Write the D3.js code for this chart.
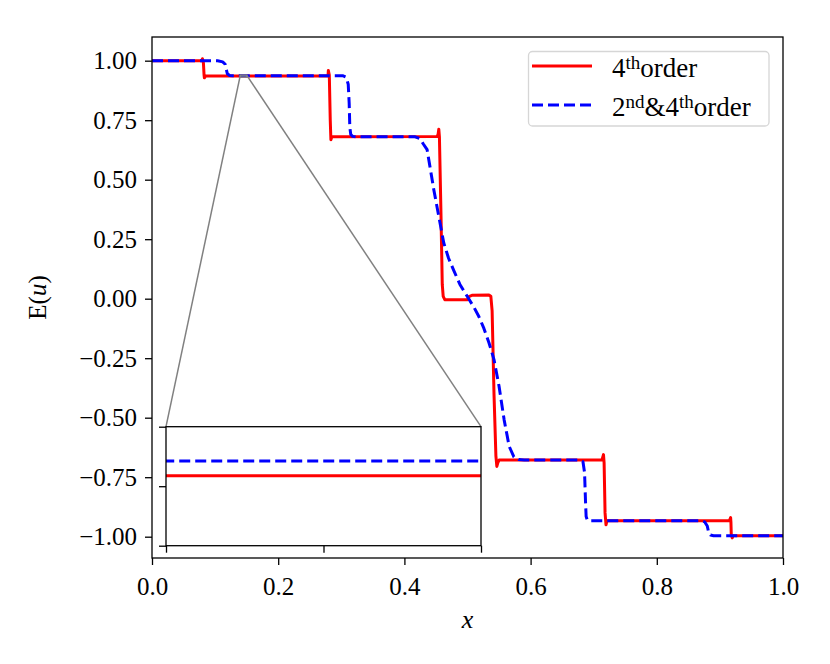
<!DOCTYPE html>
<html>
<head>
<meta charset="utf-8">
<script src="https://cdn.jsdelivr.net/npm/d3@7"></script>
<style>
  body { margin: 0; background: #fff; }
  text { font-family: "Liberation Serif", "DejaVu Serif", serif; fill: #000; }
</style>
</head>
<body>
<div id="chart"></div>
<script>
// 4th order scheme
const redX = [0.000, 0.079, 0.080, 0.0815, 0.0825, 0.083, 0.085,
  0.279, 0.2795, 0.281, 0.2825, 0.2835, 0.285,
  0.452, 0.4535, 0.4545, 0.4555, 0.458, 0.460, 0.4615, 0.464,
  0.500, 0.503, 0.507, 0.534, 0.537, 0.539, 0.542, 0.545, 0.5465, 0.548, 0.550,
  0.713, 0.7155, 0.7165, 0.718, 0.7195, 0.721,
  0.915, 0.917, 0.9175, 0.918, 0.9195, 0.921, 1.000];
const redY = [1.000, 1.000, 1.008, 0.990, 0.940, 0.928, 0.936,
  0.936, 0.959, 0.940, 0.750, 0.668, 0.680,
  0.681, 0.692, 0.712, 0.680, 0.350, 0.060, 0.010, -0.004,
  -0.004, 0.010, 0.014, 0.015, 0.010, -0.050, -0.400, -0.660, -0.705, -0.690, -0.678,
  -0.678, -0.655, -0.690, -0.900, -0.950, -0.933,
  -0.933, -0.920, -0.940, -0.990, -1.005, -0.996, -0.996];

// 2nd & 4th order scheme
const blueX = [0.000, 0.104, 0.112, 0.116, 0.118, 0.1195, 0.123, 0.128,
  0.302, 0.308, 0.311, 0.3125, 0.3135, 0.315, 0.318, 0.324,
  0.417, 0.425, 0.430, 0.436, 0.4466, 0.4545, 0.4624, 0.470, 0.478, 0.488,
  0.4995, 0.510, 0.518, 0.526, 0.534, 0.542, 0.550, 0.558, 0.566, 0.5735, 0.581, 0.590,
  0.679, 0.683, 0.6855, 0.687, 0.688, 0.690, 0.695,
  0.870, 0.876, 0.880, 0.882, 0.885, 0.890, 1.000];
const blueY = [1.000, 1.000, 0.995, 0.985, 0.960, 0.945, 0.938, 0.937,
  0.937, 0.930, 0.900, 0.820, 0.720, 0.690, 0.682, 0.680,
  0.680, 0.672, 0.650, 0.626, 0.458, 0.346, 0.234, 0.170, 0.120, 0.060,
  0.010, -0.035, -0.075, -0.125, -0.185, -0.256, -0.368, -0.508, -0.620, -0.665, -0.676, -0.678,
  -0.678, -0.685, -0.730, -0.850, -0.915, -0.931, -0.933,
  -0.933, -0.938, -0.955, -0.980, -0.993, -0.996, -0.996];

const xTicks = [0, 0.2, 0.4, 0.6, 0.8, 1.0];
const yTicks = [-1, -0.75, -0.5, -0.25, 0, 0.25, 0.5, 0.75, 1];
const xDomain = [0, 1];
const yDomain = [-1.0895, 1.0995];

// zoomed window
const insetXDomain = [0.140, 0.150];
const insetYDomain = [0.9313, 0.9393];
const insetXTicks = [0.140, 0.145, 0.150];
const insetYTicks = [0.9313, 0.9353, 0.9393];

const seriesNames = ['4th', '2nd&4th'];

const config = {
  width: 830, height: 664,
  left: 152, right: 783, top: 37, bottom: 558,
  inset: {left: 166, right: 481, top: 426.7, bottom: 545.7},
  tickLen: 7,
  fontSize: 25,
  legendFontSize: 27,
  lineWidth: 3,
  dash: '11,5'
};

const svg = d3.select('#chart').append('svg')
    .attr('width', config.width)
    .attr('height', config.height);

const x = d3.scaleLinear().domain(xDomain).range([config.left, config.right]);
const y = d3.scaleLinear().domain(yDomain).range([config.bottom, config.top]);

const redData = redX.map((d, i) => [d, redY[i]]);
const blueData = blueX.map((d, i) => [d, blueY[i]]);

svg.append('clipPath').attr('id', 'mainClip')
  .append('rect')
    .attr('x', config.left).attr('y', config.top)
    .attr('width', config.right - config.left)
    .attr('height', config.bottom - config.top);

const fmtY = v => d3.format('.2f')(v).replace('-', '\u2212');

// axes
const xAxis = svg.append('g')
    .attr('transform', `translate(0,${config.bottom})`)
    .call(d3.axisBottom(x).tickValues(xTicks).tickFormat(d3.format('.1f'))
      .tickSize(config.tickLen).tickPadding(6));
const yAxis = svg.append('g')
    .attr('transform', `translate(${config.left},0)`)
    .call(d3.axisLeft(y).tickValues(yTicks).tickFormat(fmtY)
      .tickSize(config.tickLen).tickPadding(8));
[xAxis, yAxis].forEach(a => {
  a.select('.domain').remove();
  a.selectAll('line').attr('stroke', '#000').attr('stroke-width', 1.3);
  a.selectAll('text')
    .attr('font-family', '"Liberation Serif", serif')
    .attr('font-size', config.fontSize);
});
xAxis.selectAll('text').attr('dy', '0.95em');

// data lines
const mainLine = d3.line().x(d => x(d[0])).y(d => y(d[1]));
const plot = svg.append('g').attr('clip-path', 'url(#mainClip)');
plot.append('path')
    .attr('d', mainLine(redData))
    .attr('fill', 'none').attr('stroke', '#ff0000')
    .attr('stroke-width', config.lineWidth).attr('stroke-linejoin', 'round');
plot.append('path')
    .attr('d', mainLine(blueData))
    .attr('fill', 'none').attr('stroke', '#0000ff')
    .attr('stroke-width', config.lineWidth).attr('stroke-dasharray', config.dash)
    .attr('stroke-linejoin', 'round');

// frame
svg.append('rect')
    .attr('x', config.left).attr('y', config.top)
    .attr('width', config.right - config.left)
    .attr('height', config.bottom - config.top)
    .attr('fill', 'none').attr('stroke', '#000').attr('stroke-width', 1.3);

// mark of zoomed region + connectors
const ins = config.inset;
const mx0 = x(insetXDomain[0]), mx1 = x(insetXDomain[1]);
const my0 = y(insetYDomain[0]), my1 = y(insetYDomain[1]);
svg.append('rect')
    .attr('x', mx0).attr('y', my1).attr('width', mx1 - mx0).attr('height', my0 - my1)
    .attr('fill', 'none').attr('stroke', '#808080').attr('stroke-width', 1.5);
svg.append('line')
    .attr('x1', ins.left).attr('y1', ins.top).attr('x2', mx0).attr('y2', my1)
    .attr('stroke', '#808080').attr('stroke-width', 1.5);
svg.append('line')
    .attr('x1', ins.right).attr('y1', ins.top).attr('x2', mx1).attr('y2', my1)
    .attr('stroke', '#808080').attr('stroke-width', 1.5);

// inset
const ix = d3.scaleLinear().domain(insetXDomain).range([ins.left, ins.right]);
const iy = d3.scaleLinear().domain(insetYDomain).range([ins.bottom, ins.top]);
const inset = svg.append('g');
inset.append('rect')
    .attr('x', ins.left).attr('y', ins.top)
    .attr('width', ins.right - ins.left).attr('height', ins.bottom - ins.top)
    .attr('fill', '#fff');
svg.append('clipPath').attr('id', 'insetClip')
  .append('rect')
    .attr('x', ins.left).attr('y', ins.top)
    .attr('width', ins.right - ins.left).attr('height', ins.bottom - ins.top);
const insetLine = d3.line().x(d => ix(d[0])).y(d => iy(d[1]));
const insetPlot = inset.append('g').attr('clip-path', 'url(#insetClip)');
insetPlot.append('path')
    .attr('d', insetLine(redData))
    .attr('fill', 'none').attr('stroke', '#ff0000').attr('stroke-width', config.lineWidth);
insetPlot.append('path')
    .attr('d', insetLine(blueData))
    .attr('fill', 'none').attr('stroke', '#0000ff')
    .attr('stroke-width', config.lineWidth).attr('stroke-dasharray', config.dash);
const ixAxis = inset.append('g')
    .attr('transform', `translate(0,${ins.bottom})`)
    .call(d3.axisBottom(ix).tickValues(insetXTicks).tickFormat('').tickSize(config.tickLen));
const iyAxis = inset.append('g')
    .attr('transform', `translate(${ins.left},0)`)
    .call(d3.axisLeft(iy).tickValues(insetYTicks).tickFormat('').tickSize(config.tickLen));
[ixAxis, iyAxis].forEach(a => {
  a.select('.domain').remove();
  a.selectAll('line').attr('stroke', '#000').attr('stroke-width', 1.3);
});
inset.append('rect')
    .attr('x', ins.left).attr('y', ins.top)
    .attr('width', ins.right - ins.left).attr('height', ins.bottom - ins.top)
    .attr('fill', 'none').attr('stroke', '#000').attr('stroke-width', 1.3);

// axis titles
svg.append('text')
    .attr('x', (config.left + config.right) / 2).attr('y', 628)
    .attr('text-anchor', 'middle')
    .attr('font-size', config.fontSize + 1).attr('font-style', 'italic')
    .text('x');
const yl = svg.append('text')
    .attr('transform', `translate(46,${(config.top + config.bottom) / 2}) rotate(-90)`)
    .attr('text-anchor', 'middle')
    .attr('font-size', config.fontSize);
yl.append('tspan').text('E(');
yl.append('tspan').attr('font-style', 'italic').text('u');
yl.append('tspan').text(')');

// legend
const legend = svg.append('g');
legend.append('rect')
    .attr('x', 528.5).attr('y', 51.5).attr('width', 240.5).attr('height', 74.5)
    .attr('rx', 4).attr('fill', '#fff').attr('fill-opacity', 0.8)
    .attr('stroke', '#d6d6d6').attr('stroke-width', 1.3);
const legendRows = [
  {color: '#ff0000', dash: null, y: 66, parts: [['4', 0], ['th', 1], ['order', 0]]},
  {color: '#0000ff', dash: config.dash, y: 105, parts: [['2', 0], ['nd', 1], ['&4', 0], ['th', 1], ['order', 0]]}
];
legendRows.forEach((r, i) => {
  legend.append('line')
      .attr('x1', 532).attr('x2', 592).attr('y1', r.y).attr('y2', r.y)
      .attr('stroke', r.color).attr('stroke-width', config.lineWidth)
      .attr('stroke-dasharray', r.dash);
  const t = legend.append('text')
      .attr('x', 612).attr('y', r.y + 11)
      .attr('font-size', config.legendFontSize)
      .attr('data-series', seriesNames[i]);
  r.parts.forEach(([s, sup]) => {
    const sp = t.append('tspan').text(s);
    if (sup) sp.attr('font-size', 19).attr('baseline-shift', '40%');
  });
});
</script>
</body>
</html>
